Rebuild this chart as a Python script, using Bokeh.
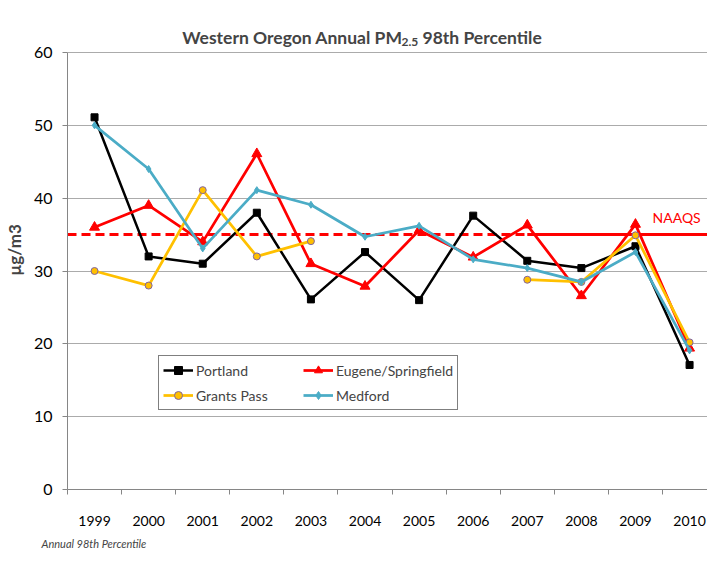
import numpy as np
from bokeh.plotting import figure
from bokeh.models import (Range1d, FixedTicker, Label, Legend, LegendItem, Title)
from bokeh.embed import file_html
from bokeh.resources import INLINE

years = ["1999", "2000", "2001", "2002", "2003", "2004", "2005", "2006", "2007", "2008", "2009", "2010"]
portland = [51.1, 32.0, 31.0, 38.0, 26.1, 32.6, 26.0, 37.6, 31.4, 30.4, 33.4, 17.1]
eugene = [36.0, 39.0, 34.0, 46.1, 31.0, 27.9, 35.6, 31.9, 36.3, 26.6, 36.4, 19.4]
grants_pass = [30.0, 28.0, 41.1, 32.0, 34.1, None, None, None, 28.8, 28.5, 34.9, 20.2]
medford = [50.0, 44.0, 33.1, 41.1, 39.1, 34.7, 36.2, 31.6, 30.4, 28.5, 32.6, 19.1]
naaqs = 35.0
naaqs_dashed_until = "2007"
y_ticks = [0, 10, 20, 30, 40, 50, 60]

FONT = "Lato"

xpos = [i + 0.5 for i in range(len(years))]
bounds = list(range(len(years) + 1))

# frame spans from the title area down to the x axis; axis/grid stop at 60
FH = 479
y_top = 60 * FH / 437.0
p = figure(frame_width=641, frame_height=FH, output_backend="svg", toolbar_location=None,
           x_range=Range1d(0, 11.85), y_range=Range1d(0, y_top),
           min_border_left=66, min_border_right=0, min_border_top=10, min_border_bottom=74)
p.outline_line_color = None
p.background_fill_color = "white"
p.border_fill_color = "white"

# axes
p.xaxis.ticker = FixedTicker(ticks=xpos, minor_ticks=bounds)
p.xaxis.major_label_overrides = {x: y for x, y in zip(xpos, years)}
p.xaxis.major_tick_in = 0
p.xaxis.major_tick_out = 0
p.xaxis.minor_tick_in = 0
p.xaxis.minor_tick_out = 5
p.xaxis.minor_tick_line_color = "#868686"
p.xaxis.axis_line_color = "#868686"
p.xaxis.major_label_standoff = 21
p.xaxis.major_label_text_font = FONT
p.xaxis.major_label_text_font_size = "14px"
p.xaxis.major_label_text_color = "black"
p.xgrid.visible = False

p.yaxis.ticker = FixedTicker(ticks=y_ticks)
p.yaxis.bounds = (0, 60)
p.yaxis.major_tick_in = 0
p.yaxis.major_tick_out = 5
p.yaxis.minor_tick_line_color = None
p.yaxis.major_tick_line_color = "#868686"
p.yaxis.axis_line_color = "#868686"
p.yaxis.major_label_standoff = 10
p.yaxis.major_label_text_font = FONT
p.yaxis.major_label_text_font_size = "16px"
p.yaxis.major_label_text_color = "black"
p.yaxis.axis_label = "µg/m3"
p.yaxis.axis_label_text_font = FONT
p.yaxis.axis_label_text_font_style = "bold"
p.yaxis.axis_label_text_font_size = "17px"
p.yaxis.axis_label_standoff = 6
p.ygrid.grid_line_color = "#ababab"
p.ygrid.grid_line_width = 1

# NAAQS line
cut = xpos[years.index(naaqs_dashed_until)]
p.line([0, cut], [naaqs, naaqs], line_color="#FF0000", line_width=3, line_dash="9 5")
p.line([cut, 12], [naaqs, naaqs], line_color="#FF0000", line_width=3)
p.add_layout(Label(x=11.26, y=naaqs + 1.2, text="NAAQS", text_color="#FF0000", text_font=FONT,
                   text_font_size="14px", text_align="center"))

def nan(v):
    return [np.nan if a is None else a for a in v]

r1l = p.line(xpos, portland, line_color="black", line_width=2.5)
r1m = p.scatter(xpos, portland, marker="square", size=7, fill_color="black", line_color="black")
r2l = p.line(xpos, eugene, line_color="#FF0000", line_width=2.75)
r2m = p.scatter(xpos, eugene, marker="triangle", size=10, fill_color="#FF0000", line_color="#FF0000")
r3l = p.line(xpos, nan(grants_pass), line_color="#FFC000", line_width=2.75)
r3m = p.scatter(xpos, nan(grants_pass), marker="circle", size=7, fill_color="#FFC000", line_color="#8064A2")
r4l = p.line(xpos, medford, line_color="#4BACC6", line_width=2.75)
r4m = p.scatter(xpos, medford, marker="diamond", size=7, fill_color="#4BACC6", line_color="#4BACC6")

legend = Legend(items=[
    LegendItem(label="Portland", renderers=[r1l, r1m]),
    LegendItem(label="Grants Pass", renderers=[r3l, r3m]),
    LegendItem(label="Eugene/Springfield", renderers=[r2l, r2m]),
    LegendItem(label="Medford", renderers=[r4l, r4m]),
], ncols=2, location=(91, 79))
legend.border_line_color = "black"
legend.border_line_width = 1
legend.background_fill_alpha = 1
legend.label_text_font = FONT
legend.label_text_font_size = "14px"
legend.glyph_width = 30
legend.label_standoff = 3
legend.label_width = 102
legend.padding = 4
legend.spacing = 5
legend.margin = 0
p.add_layout(legend, "center")

# title with subscript (screen units relative to the frame's bottom-left)
tx = 335
ty = 452
p.add_layout(Label(x=tx, y=ty, x_units="screen", y_units="screen", text="Western Oregon Annual PM",
                   text_font=FONT, text_font_style="bold", text_font_size="17.5px",
                   text_align="right", text_baseline="alphabetic"))
p.add_layout(Label(x=tx - 1, y=ty - 4, x_units="screen", y_units="screen", text="2.5",
                   text_font=FONT, text_font_style="bold", text_font_size="12px",
                   text_align="left", text_baseline="alphabetic"))
p.add_layout(Label(x=tx + 20, y=ty, x_units="screen", y_units="screen", text="98th Percentile",
                   text_font=FONT, text_font_style="bold", text_font_size="17.5px",
                   text_align="left", text_baseline="alphabetic"))

p.add_layout(Title(text="Annual 98th Percentile", align="left", offset=-26, standoff=12,
                   text_font=FONT, text_font_style="italic", text_font_size="11px"), "below")

open("out.html", "w").write(file_html(p, INLINE))
